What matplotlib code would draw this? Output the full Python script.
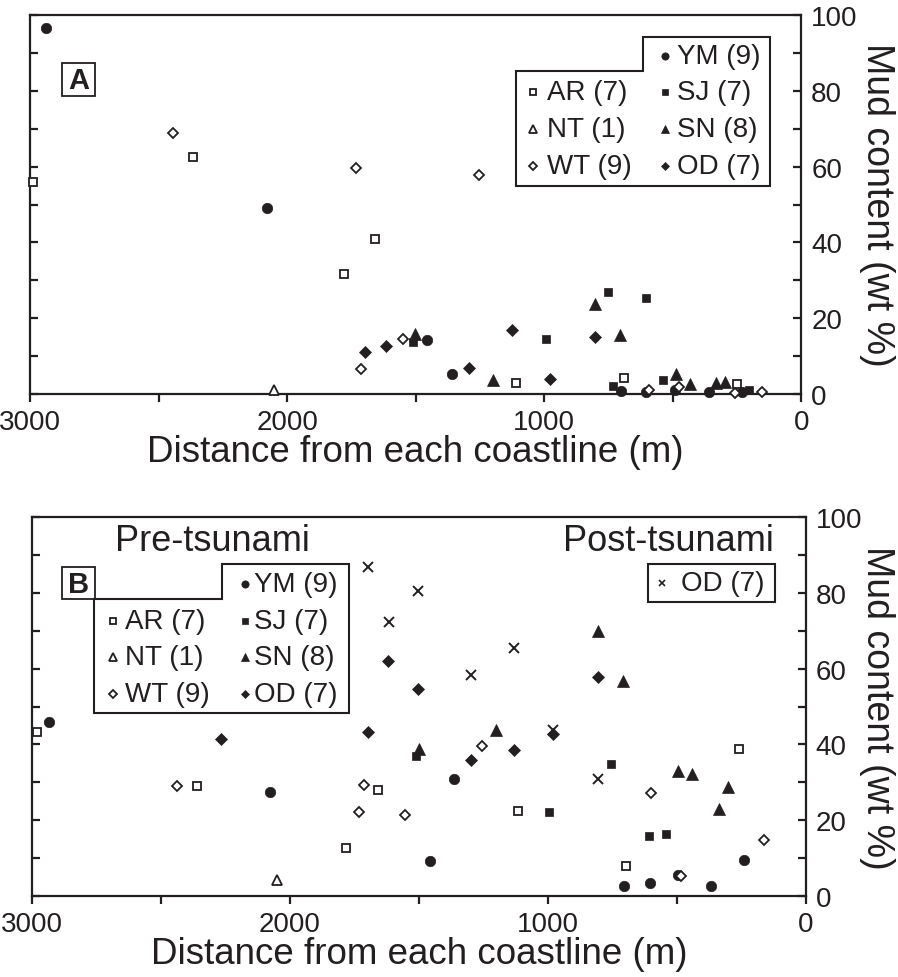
import matplotlib
matplotlib.use("Agg")
import matplotlib.pyplot as plt
from matplotlib.patches import Polygon, Rectangle
from matplotlib.ticker import MultipleLocator, FixedLocator

plt.rcParams["font.family"] = ["Liberation Sans", "DejaVu Sans"]
INK = "#231f20"

# ---- panel A : mud content vs distance ----
a_ym_x = [2939, 2080, 1455, 1360, 702, 605, 492, 361, 231]
a_ym_y = [96.5, 49.0, 14.2, 5.2, 0.9, 0.6, 1.1, 0.6, 0.6]
a_ar_x = [2988, 2368, 1780, 1659, 1110, 689, 252]
a_ar_y = [56.0, 62.5, 31.7, 40.8, 3.0, 4.3, 2.6]
a_nt_x = [2051]
a_nt_y = [1.0]
a_wt_x = [2443, 1733, 1713, 1551, 1253, 594, 475, 260, 154]
a_wt_y = [68.9, 59.5, 6.6, 14.5, 57.8, 1.1, 1.9, 0.3, 0.6]
a_sj_x = [1510, 994, 751, 732, 605, 537, 203]
a_sj_y = [13.6, 14.5, 26.8, 2.0, 25.2, 3.7, 1.1]
a_sn_x = [1502, 1199, 803, 706, 489, 434, 333, 296]
a_sn_y = [15.8, 3.7, 23.7, 15.6, 5.3, 2.6, 2.9, 3.2]
a_od_x = [1696, 1616, 1294, 1127, 977, 802]
a_od_y = [11.2, 12.6, 6.9, 16.9, 4.0, 15.0]

# ---- panel B : pre- and post-tsunami ----
b_ym_x = [2932, 2077, 1457, 1362, 707, 603, 497, 368, 239]
b_ym_y = [45.9, 27.4, 9.3, 30.9, 2.6, 3.4, 5.6, 2.7, 9.4]
b_ar_x = [2981, 2361, 1781, 1659, 1116, 696, 261]
b_ar_y = [43.2, 29.1, 12.6, 28.0, 22.3, 7.8, 38.8]
b_nt_x = [2049]
b_nt_y = [4.1]
b_wt_x = [2437, 1733, 1713, 1554, 1256, 600, 484, 163]
b_wt_y = [29.1, 22.2, 29.4, 21.5, 39.6, 27.2, 5.4, 14.8]
b_sj_x = [1512, 996, 756, 609, 544]
b_sj_y = [37.0, 22.1, 34.8, 15.9, 16.4]
b_sn_x = [1501, 1201, 807, 708, 496, 442, 337, 302]
b_sn_y = [38.8, 43.7, 69.9, 56.7, 33.1, 32.2, 23.0, 28.7]
b_od_x = [2268, 1696, 1619, 1505, 1299, 1131, 979, 807]
b_od_y = [41.4, 43.2, 61.9, 54.7, 35.8, 38.6, 42.7, 57.8]
b_post_x = [1696, 1617, 1504, 1299, 1131, 979, 807]
b_post_y = [86.7, 72.3, 80.6, 58.4, 65.4, 43.8, 30.9]

labels = {"YM": "YM (9)", "AR": "AR (7)", "SJ": "SJ (7)", "NT": "NT (1)",
          "SN": "SN (8)", "WT": "WT (9)", "OD": "OD (7)"}

# marker look per site: (marker, size, filled)
styles = {
    "YM": ("o", 7.5, True),
    "AR": ("s", 6, False),
    "NT": ("^", 7.5, False),
    "WT": ("D", 5.5, False),
    "SJ": ("s", 6, True),
    "SN": ("^", 8.5, True),
    "OD": ("D", 6.3, True),
}


def mstyle(site, scale=1.0):
    m, s, filled = styles[site]
    return dict(marker=m, ms=s * scale, mec=INK, mfc=INK if filled else "white",
                mew=1.3 if not filled else 0.5, ls="none")


def setup(ax):
    ax.set_xlim(3000, 0)
    ax.set_ylim(0, 100)
    for sp in ax.spines.values():
        sp.set_linewidth(1.6)
        sp.set_color(INK)
    ax.xaxis.set_major_locator(FixedLocator([3000, 2000, 1000, 0]))
    ax.xaxis.set_minor_locator(FixedLocator([2500, 1500, 500]))
    ax.yaxis.set_major_locator(MultipleLocator(20))
    ax.yaxis.set_minor_locator(MultipleLocator(10))
    ax.tick_params(axis="x", which="both", direction="out", length=6, width=1.6,
                   top=False, colors=INK, labelsize=20, pad=5)
    ax.tick_params(axis="y", which="both", direction="in", length=6, width=1.6,
                   left=True, right=True, labelleft=False, labelright=True,
                   colors=INK, labelsize=20, pad=7)
    ax.set_xlabel("Distance from each coastline (m)", fontsize=26.5, color=INK,
                  labelpad=-1)


def letter(ax, x0, y0, x1, y1, txt):
    ax.add_patch(Rectangle((x0, y0), x1 - x0, y1 - y0, transform=ax.transAxes,
                           fill=False, ec=INK, lw=1.3, clip_on=False))
    ax.text((x0 + x1) / 2, (y0 + y1) / 2 - 0.002, txt, transform=ax.transAxes,
            ha="center", va="center", fontsize=21, fontweight="bold", color=INK)


def legend(ax, poly, cols, rows, entries):
    ax.add_patch(Polygon(poly, closed=True, transform=ax.transAxes, fill=False,
                         ec=INK, lw=1.5, clip_on=False))
    for site, c, r in entries:
        mx, tx = cols[c]
        ax.plot([mx], [rows[r]], transform=ax.transAxes, clip_on=False, **mstyle(site, 0.7))
        ax.text(tx, rows[r], labels[site], transform=ax.transAxes, ha="left",
                va="center", fontsize=20, color=INK)


fig = plt.figure(figsize=(8.98, 9.78), dpi=100)
axA = fig.add_axes([30 / 898, 1 - 395 / 978, 771.5 / 898, 379 / 978])
axB = fig.add_axes([31.7 / 898, 1 - 897 / 978, 774.3 / 898, 379 / 978])

series_a = {"YM": (a_ym_x, a_ym_y), "AR": (a_ar_x, a_ar_y), "NT": (a_nt_x, a_nt_y),
            "WT": (a_wt_x, a_wt_y), "SJ": (a_sj_x, a_sj_y), "SN": (a_sn_x, a_sn_y),
            "OD": (a_od_x, a_od_y)}
series_b = {"YM": (b_ym_x, b_ym_y), "AR": (b_ar_x, b_ar_y), "NT": (b_nt_x, b_nt_y),
            "WT": (b_wt_x, b_wt_y), "SJ": (b_sj_x, b_sj_y), "SN": (b_sn_x, b_sn_y),
            "OD": (b_od_x, b_od_y)}

for ax, series in ((axA, series_a), (axB, series_b)):
    setup(ax)
    for site, (xs, ys) in series.items():
        ax.plot(xs, ys, clip_on=False, zorder=3, **mstyle(site))

axB.plot(b_post_x, b_post_y, ls="none", marker="x", ms=6.5, mew=1.4, color=INK,
         clip_on=False, zorder=3)

entries = [("YM", 1, 0), ("AR", 0, 1), ("SJ", 1, 1), ("NT", 0, 2),
           ("SN", 1, 2), ("WT", 0, 3), ("OD", 1, 3)]

# panel A legend and label
letter(axA, 0.0411, 0.7871, 0.0843, 0.8734, "A")
legend(axA, [(0.795, 0.9427), (0.959, 0.9427), (0.959, 0.5496), (0.6296, 0.5496),
             (0.6296, 0.8515), (0.795, 0.8515)],
       [(0.6524, 0.6700), (0.8237, 0.8380)], [0.8926, 0.7960, 0.6992, 0.6024], entries)

# panel B legend, labels
letter(axB, 0.0387, 0.7836, 0.0818, 0.8677, "B")
legend(axB, [(0.2454, 0.8747), (0.4098, 0.8747), (0.4098, 0.4821), (0.0811, 0.4821),
             (0.0811, 0.7836), (0.2454, 0.7836)],
       [(0.1046, 0.1200), (0.2755, 0.2870)], [0.8232, 0.7269, 0.6306, 0.5343], entries)
axB.text(0.2329, 0.9375, "Pre-tsunami", transform=axB.transAxes, ha="center",
         va="center", fontsize=26, color=INK)
axB.text(0.9578, 0.9375, "Post-tsunami", transform=axB.transAxes, ha="right",
         va="center", fontsize=26, color=INK)
axB.add_patch(Rectangle((0.7964, 0.7765), 0.9599 - 0.7964, 0.876 - 0.7765,
                        transform=axB.transAxes, fill=False, ec=INK, lw=1.5, clip_on=False))
axB.plot([0.8140], [0.825], transform=axB.transAxes, ls="none", marker="x", ms=5,
         mew=1.2, color=INK, clip_on=False)
axB.text(0.8380, 0.825, "OD (7)", transform=axB.transAxes, ha="left", va="center",
         fontsize=20, color=INK)

# right-hand y labels
fig.text(877 / 898, 1 - 205 / 978, "Mud content (wt %)", rotation=270, ha="center",
         va="center", fontsize=27, color=INK)
fig.text(877 / 898, 1 - 708 / 978, "Mud content (wt %)", rotation=270, ha="center",
         va="center", fontsize=27, color=INK)

fig.savefig("out.png", dpi=100)
